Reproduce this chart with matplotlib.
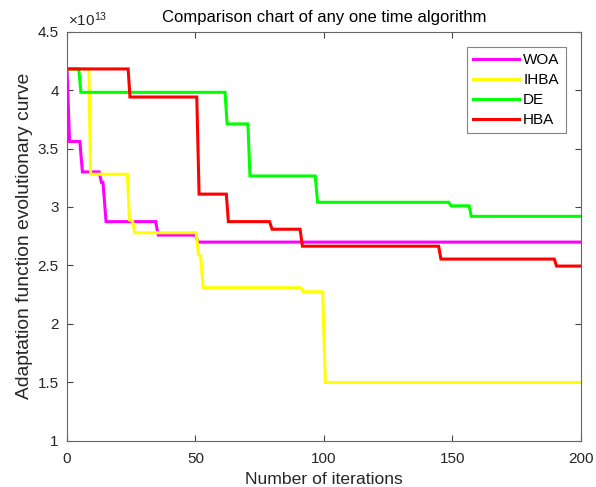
import matplotlib
matplotlib.use("Agg")
import matplotlib.pyplot as plt

plt.rcParams['font.family'] = ['Liberation Sans', 'DejaVu Sans']
plt.rcParams['mathtext.fontset'] = 'custom'
plt.rcParams['mathtext.rm'] = 'Liberation Sans'
plt.rcParams['mathtext.it'] = 'Liberation Sans'

# values in units of 1e13
WOA_x = [0, 1, 5, 6, 12.5, 13.4, 14, 15.2, 34.5, 35.5, 50, 51, 200]
WOA_y = [4.18, 3.56, 3.56, 3.30, 3.30, 3.21, 3.21, 2.875, 2.875, 2.76, 2.76, 2.70, 2.70]

IHBA_x = [0, 8.5, 9.2, 23.5, 24.3, 25.5, 26.4, 50.3, 51.2, 52, 53, 91, 92, 99.5, 100.5, 200]
IHBA_y = [4.18, 4.18, 3.28, 3.28, 2.89, 2.88, 2.78, 2.78, 2.59, 2.58, 2.31, 2.31, 2.275, 2.275, 1.50, 1.50]

DE_x = [0, 4.6, 5.4, 61.5, 62.3, 70.4, 71.2, 96.6, 97.5, 148.5, 149.5, 156.5, 157.3, 200]
DE_y = [4.18, 4.18, 3.98, 3.98, 3.71, 3.71, 3.265, 3.265, 3.04, 3.04, 3.01, 3.01, 2.92, 2.92]

HBA_x = [0, 23.8, 24.5, 50.5, 51.4, 62, 62.8, 78.8, 79.8, 90.7, 91.6, 144.6, 145.5, 189.6, 190.5, 200]
HBA_y = [4.18, 4.18, 3.94, 3.94, 3.11, 3.11, 2.875, 2.875, 2.81, 2.81, 2.665, 2.665, 2.555, 2.555, 2.495, 2.495]

series = [("WOA", WOA_x, WOA_y, "#ff00ff"),
          ("IHBA", IHBA_x, IHBA_y, "#ffff00"),
          ("DE", DE_x, DE_y, "#00ff00"),
          ("HBA", HBA_x, HBA_y, "#ff0000")]

x_ticks = [0, 50, 100, 150, 200]
y_ticks = [1, 1.5, 2, 2.5, 3, 3.5, 4, 4.5]
y_ticklabels = ["1", "1.5", "2", "2.5", "3", "3.5", "4", "4.5"]

fig = plt.figure(figsize=(5.96, 4.87), dpi=100)
ax = fig.add_axes([0.1124, 0.0945, 0.9748 - 0.1124, 0.9353 - 0.0945])

for name, xs, ys, c in series:
    ax.plot(xs, ys, color=c, lw=2.2, label=name, solid_joinstyle='miter')

ax.set_xlim(0, 200)
ax.set_ylim(1, 4.5)
ax.set_xticks(x_ticks)
ax.set_yticks(y_ticks)
ax.set_yticklabels(y_ticklabels)
ax.tick_params(direction='in', top=True, right=True, length=4, width=0.8,
               colors='#444444', labelcolor='#262626', labelsize=11)
ax.tick_params(axis='x', pad=8)
ax.tick_params(axis='y', pad=6)
for s in ax.spines.values():
    s.set_color('#666666')
    s.set_linewidth(0.8)

ax.set_xlabel("Number of iterations", fontsize=12.6, color='#262626', labelpad=4)
ax.set_ylabel("Adaptation function evolutionary curve", fontsize=13.9, color='#262626', labelpad=3)
ax.set_title("Comparison chart of any one time algorithm", fontsize=12, color='#000000', pad=7)
ax.text(0.002, 1.006, r"$\times10^{13}$", transform=ax.transAxes, fontsize=11,
        color='#262626', ha='left', va='bottom')

leg = ax.legend(loc='upper right', borderaxespad=1.0, fontsize=11,
                frameon=True, fancybox=False, edgecolor='#666666', handlelength=3.0,
                borderpad=0.4, labelspacing=0.4, handletextpad=0.3)
leg.get_frame().set_linewidth(0.8)

fig.savefig("out.png", dpi=100)
